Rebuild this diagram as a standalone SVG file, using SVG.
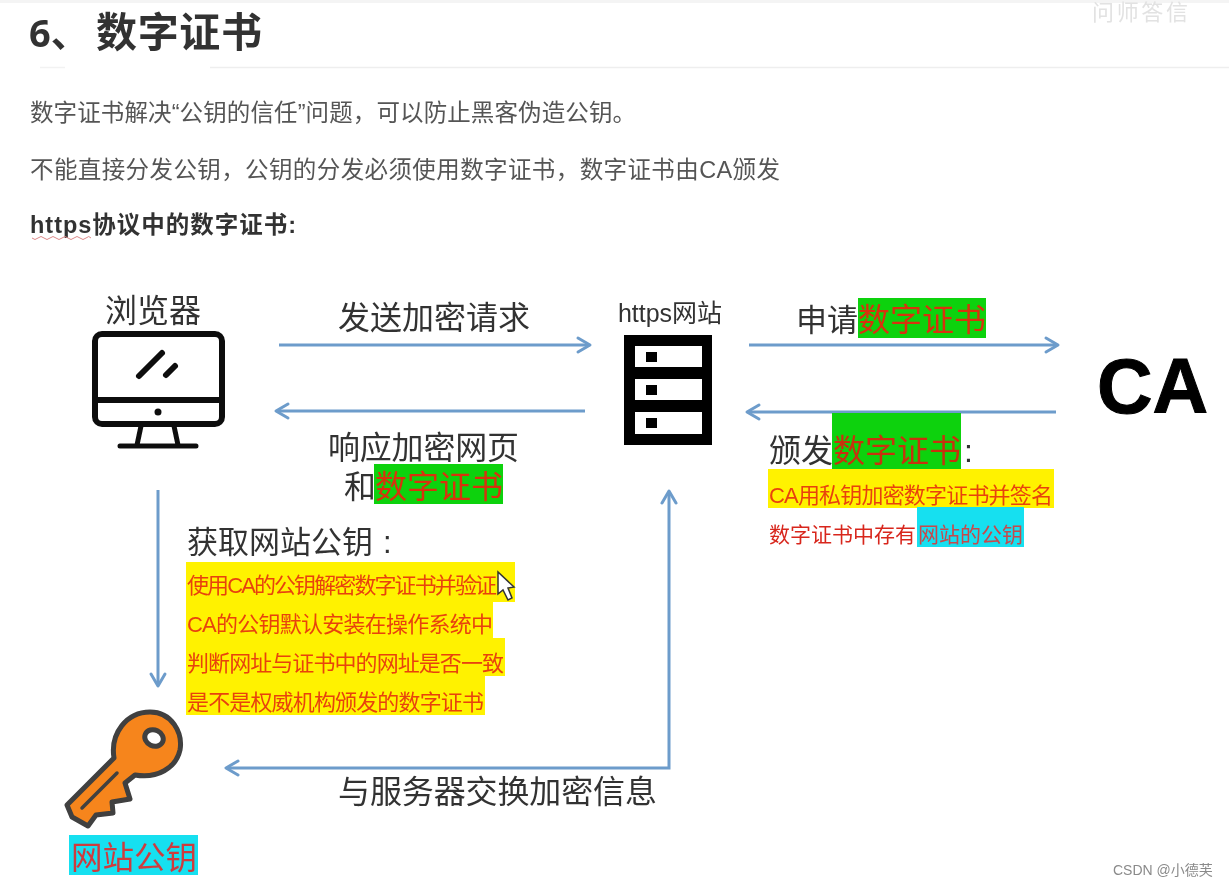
<svg xmlns="http://www.w3.org/2000/svg" width="1229" height="888" viewBox="0 0 1229 888">
<style>
text{font-family:"Liberation Sans","Noto Sans CJK SC",sans-serif}
.h{font-family:"Noto Sans","Noto Sans CJK SC",sans-serif;font-weight:700;fill:#333}
.b{font-size:23.5px;fill:#555}
.l{font-size:32px;fill:#333}
.s{font-size:22px;fill:#e8420c}
.r{fill:#d8281e}
.p{fill:none;stroke:#6d9ccb;stroke-width:3}
.a{fill:none;stroke:#6d9ccb;stroke-width:3;stroke-linecap:round;stroke-linejoin:round}
.k{stroke:#111;fill:none;stroke-linecap:round;stroke-linejoin:round}
</style>
<defs><filter id="soft" x="0" y="0" width="100%" height="100%"><feGaussianBlur stdDeviation="0.5"/></filter></defs>
<rect width="1229" height="888" fill="#fff"/>
<g filter="url(#soft)">
<g id="header">
<rect x="0" y="0" width="1229" height="3" fill="#f4f4f4"/>
<line x1="210" y1="67.500" x2="1229" y2="67.500" stroke="#eee" stroke-width="1.500"/>
<line x1="40" y1="67.500" x2="65" y2="67.500" stroke="#f2f2f2" stroke-width="1.500"/>
<text x="1092" y="20" font-size="22" fill="#e2e2e2" textLength="96">问师答信</text>
<text class="h" x="29" y="47" font-size="38">6、</text>
<text class="h" x="96" y="47" font-size="41" textLength="166">数字证书</text>
<text class="b" x="30" y="121" textLength="606">数字证书解决“公钥的信任”问题，可以防止黑客伪造公钥。</text>
<text class="b" x="30" y="178" textLength="750">不能直接分发公钥，公钥的分发必须使用数字证书，数字证书由CA颁发</text>
<text x="30" y="233" font-size="23.500" font-weight="700" fill="#333" textLength="266">https协议中的数字证书:</text>
<path d="M32 238q3 3 6 0t6 0t6 0t6 0t6 0t6 0t6 0t6 0t6 0t5 0" fill="none" stroke="#d88" stroke-width="1"/>
</g>
<g id="connectors">
<path class="p" d="M279 345H588"/><path class="a" d="M578 338l12 7l-12 7"/>
<path class="p" d="M585 411H277"/><path class="a" d="M288 404l-12 7l12 7"/>
<path class="p" d="M749 345H1056"/><path class="a" d="M1046 338l12 7l-12 7"/>
<path class="p" d="M1056 412H748"/><path class="a" d="M759 405l-12 7l12 7"/>
<path class="p" d="M158 490V684"/><path class="a" d="M151 674l7 12l7-12"/>
<path class="p" d="M669 492V768H227"/><path class="a" d="M662 503l7-12l7 12M238 761l-12 7l12 7"/>
</g>
<g id="browser">
<text x="105" y="322" font-size="32" fill="#333">浏览器</text>
<rect x="95" y="334" width="127" height="90" rx="7" fill="#fff" stroke="#111" stroke-width="6"/>
<path class="k" stroke-width="6" d="M96 400H221"/>
<circle cx="158" cy="412" r="3.500" fill="#111"/>
<path class="k" stroke-width="6" d="M139 376L162 353M166 375L175 366"/>
<path class="k" stroke-width="5" d="M141 426L137 445M174 426L178 445M120 446H196"/>
</g>
<g id="server">
<text x="618" y="322" font-size="25" fill="#333" textLength="104">https网站</text>
<rect x="624" y="335" width="88" height="110" fill="#000"/>
<rect x="635" y="346" width="67" height="21" fill="#fff"/>
<rect x="635" y="379" width="67" height="21" fill="#fff"/>
<rect x="635" y="412" width="67" height="22" fill="#fff"/>
<rect x="646" y="352" width="11" height="10"/>
<rect x="646" y="385" width="11" height="10"/>
<rect x="646" y="418" width="11" height="10"/>
</g>
<g id="ca">
<text x="1097" y="413" font-size="77" font-weight="700" fill="#000" stroke="#000" stroke-width="1">CA</text>
</g>
<g id="key">
<path fill="#f6851b" stroke="#3f3f3f" stroke-width="5" stroke-linejoin="round" d="M114 758C110 733 127 712 150 712C172 712 183 733 180 750C176 768 157 779 135 775L125 783L130 799L112 802L113 813L96 815L88 826L72 817L67 805Z"/>
<ellipse cx="154" cy="738" rx="9.500" ry="8" transform="rotate(25 154 738)" fill="#fff" stroke="#3f3f3f" stroke-width="5"/>
<path stroke="#3f3f3f" stroke-width="3.500" stroke-linecap="round" fill="none" d="M82 808L117 773"/>
</g>
<g id="key-label">
<rect x="69" y="835" width="129" height="40" fill="#14e0f0"/>
<text x="71" y="869" font-size="31.500" fill="#cf3a3e">网站公钥</text>
</g>
<g id="labels">
<text class="l" x="338" y="329">发送加密请求</text>
<text x="796" y="331" font-size="31" fill="#333">申请</text>
<rect x="858" y="298" width="128" height="40" fill="#0fd20f"/>
<text x="858" y="331" font-size="32" fill="#d8300c">数字证书</text>
<text class="l" x="328" y="459" textLength="191">响应加密网页</text>
<text class="l" x="344" y="498">和</text>
<rect x="374" y="464" width="129" height="40" fill="#0fd20f"/>
<text x="375" y="498" font-size="32" fill="#d8300c">数字证书</text>
<text class="l" x="769" y="462">颁发</text>
<rect x="832" y="413" width="129" height="56" fill="#0fd20f"/>
<text x="833" y="462" font-size="32" fill="#c8300c">数字证书</text>
<text class="l" x="964" y="462">:</text>
<rect x="768" y="469" width="286" height="39" fill="#fff200"/>
<text class="s" x="769" y="503" textLength="284">CA用私钥加密数字证书并签名</text>
<rect x="917" y="507" width="107" height="40" fill="#14e0f0"/>
<text class="s r" x="769" y="542" style="font-size:21px" textLength="147">数字证书中存有</text>
<text x="918" y="542" font-size="21" fill="#c8484c" textLength="105">网站的公钥</text>
<text x="187" y="553" font-size="31" fill="#333">获取网站公钥</text>
<text x="383" y="553" font-size="31" fill="#333">:</text>
<path fill="#fff200" d="M186 562H515V602H493V638H505V676H485V715H186Z"/>
<text class="s" x="187" y="593" textLength="310">使用CA的公钥解密数字证书并验证</text>
<text class="s" x="187" y="632" textLength="306">CA的公钥默认安装在操作系统中</text>
<text class="s" x="187" y="671" textLength="317">判断网址与证书中的网址是否一致</text>
<text class="s" x="187" y="710" textLength="297">是不是权威机构颁发的数字证书</text>
<path d="M498 572V594L503 590L508 600L512 598L508 588L514 587Z" fill="#fff" stroke="#333" stroke-width="1.500"/>
<text class="l" x="338" y="803" textLength="319">与服务器交换加密信息</text>
</g>
<g id="watermark">
<text x="1113" y="875" font-size="14" fill="#8a8a8a">CSDN @小德芙</text>
</g>
</g>
</svg>
